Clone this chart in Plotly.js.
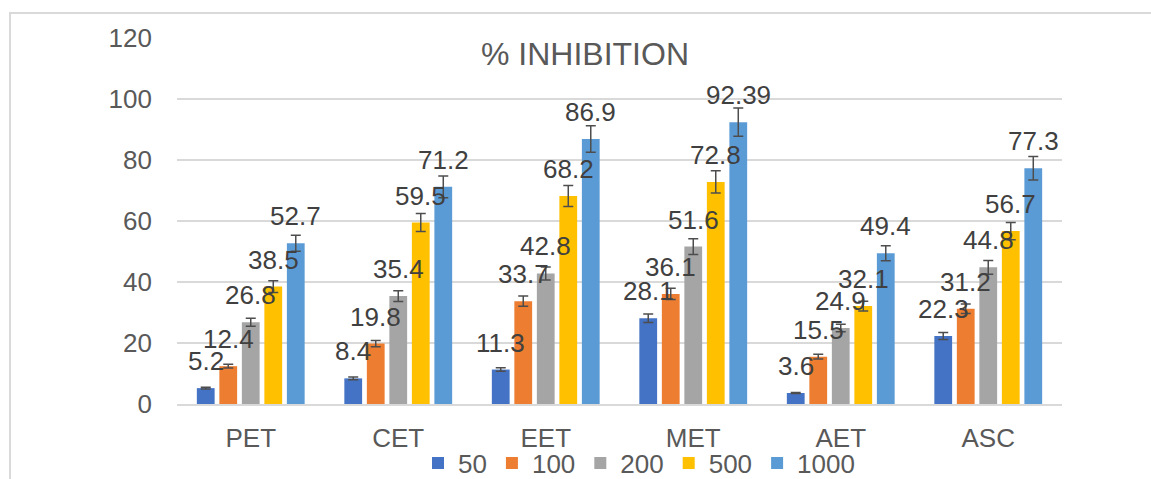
<!DOCTYPE html>
<html>
<head>
<meta charset="utf-8">
<script src="https://cdn.plot.ly/plotly-3.0.1.min.js"></script>
<style>
  html, body { margin: 0; padding: 0; background: #ffffff; }
  #frame { position: absolute; left: 9px; top: 12px; width: 1200px; height: 500px;
           border-left: 2px solid #D9D9D9; border-top: 2px solid #D9D9D9; }
  #chart { position: absolute; left: 0; top: 0; width: 1151px; height: 479px; }
</style>
</head>
<body>
<div id="frame"></div>
<div id="chart"></div>
<script>
const categories = ["PET", "CET", "EET", "MET", "AET", "ASC"];
const seriesNames = ["50", "100", "200", "500", "1000"];

const s50   = [5.2, 8.4, 11.3, 28.1, 3.6, 22.3];
const s100  = [12.4, 19.8, 33.7, 36.1, 15.5, 31.2];
const s200  = [26.8, 35.4, 42.8, 51.6, 24.9, 44.8];
const s500  = [38.5, 59.5, 68.2, 72.8, 32.1, 56.7];
const s1000 = [52.7, 71.2, 86.9, 92.39, 49.4, 77.3];

const e50   = [0.26, 0.42, 0.57, 1.41, 0.18, 1.12];
const e100  = [0.62, 0.99, 1.69, 1.81, 0.78, 1.56];
const e200  = [1.34, 1.77, 2.14, 2.58, 1.25, 2.24];
const e500  = [1.93, 2.98, 3.41, 3.64, 1.61, 2.84];
const e1000 = [2.64, 3.56, 4.35, 4.62, 2.47, 3.87];

const yTicks = [0, 20, 40, 60, 80, 100, 120];

const values = [s50, s100, s200, s500, s1000];
const errors = [e50, e100, e200, e500, e1000];
const colors = ["#4472C4", "#ED7D31", "#A5A5A5", "#FFC000", "#5B9BD5"];

const FONT = "Arial, 'Liberation Sans', sans-serif";

const W = 1151, H = 479;
const margin = { l: 177, r: 89, t: 38, b: 75 };
const bargap = 0.237, bargroupgap = 0.21;

const traces = values.map((v, i) => ({
  type: "bar",
  name: seriesNames[i],
  x: categories,
  y: v,
  marker: { color: colors[i] },
  error_y: { type: "data", array: errors[i], visible: true, color: "#4d4d4d", thickness: 1.5, width: 5 },
  hoverinfo: "x+y+name"
}));

// data labels placed over each bar's centre (offset derived from the group layout)
const catWidthPx = (W - margin.l - margin.r) / categories.length;
const slotPx = catWidthPx * (1 - bargap) / values.length;
const annotations = [];
values.forEach((v, i) => {
  v.forEach((val, j) => {
    annotations.push({
      x: categories[j], y: val, xref: "x", yref: "y",
      text: String(val), showarrow: false,
      xanchor: "center", yanchor: "bottom",
      xshift: (i - (values.length - 1) / 2) * slotPx,
      yshift: 10,
      font: { family: FONT, size: 26, color: "#404040" }
    });
  });
});

const layout = {
  width: W,
  height: H,
  margin: margin,
  paper_bgcolor: "rgba(0,0,0,0)",
  plot_bgcolor: "rgba(0,0,0,0)",
  font: { family: FONT, color: "#595959", size: 26 },
  title: {
    text: "% INHIBITION",
    font: { family: FONT, size: 32, color: "#595959" },
    xref: "container", x: 585 / W, xanchor: "center",
    yref: "container", y: 1 - 54 / H, yanchor: "middle"
  },
  barmode: "group",
  bargap: bargap,
  bargroupgap: bargroupgap,
  annotations: annotations,
  xaxis: {
    type: "category",
    categoryorder: "array",
    categoryarray: categories,
    showline: true,
    linecolor: "#D9D9D9",
    linewidth: 1.5,
    showgrid: false,
    ticks: "",
    ticklabelstandoff: 10,
    tickfont: { family: FONT, size: 26, color: "#595959" }
  },
  yaxis: {
    range: [0, 120],
    tickvals: yTicks,
    ticktext: yTicks.map(String),
    showgrid: true,
    gridcolor: "#D9D9D9",
    gridwidth: 1.5,
    zeroline: false,
    showline: false,
    ticks: "",
    ticklabelstandoff: 24,
    tickfont: { family: FONT, size: 26, color: "#595959" }
  },
  showlegend: true,
  legend: {
    orientation: "h",
    xref: "container", x: 639 / W, xanchor: "center",
    yref: "container", y: 16 / H, yanchor: "middle",
    font: { family: FONT, size: 26, color: "#595959" },
    itemwidth: 30,
    tracegroupgap: 0,
    bgcolor: "rgba(0,0,0,0)"
  }
};

Plotly.newPlot("chart", traces, layout, { displayModeBar: false, staticPlot: true });
</script>
</body>
</html>
